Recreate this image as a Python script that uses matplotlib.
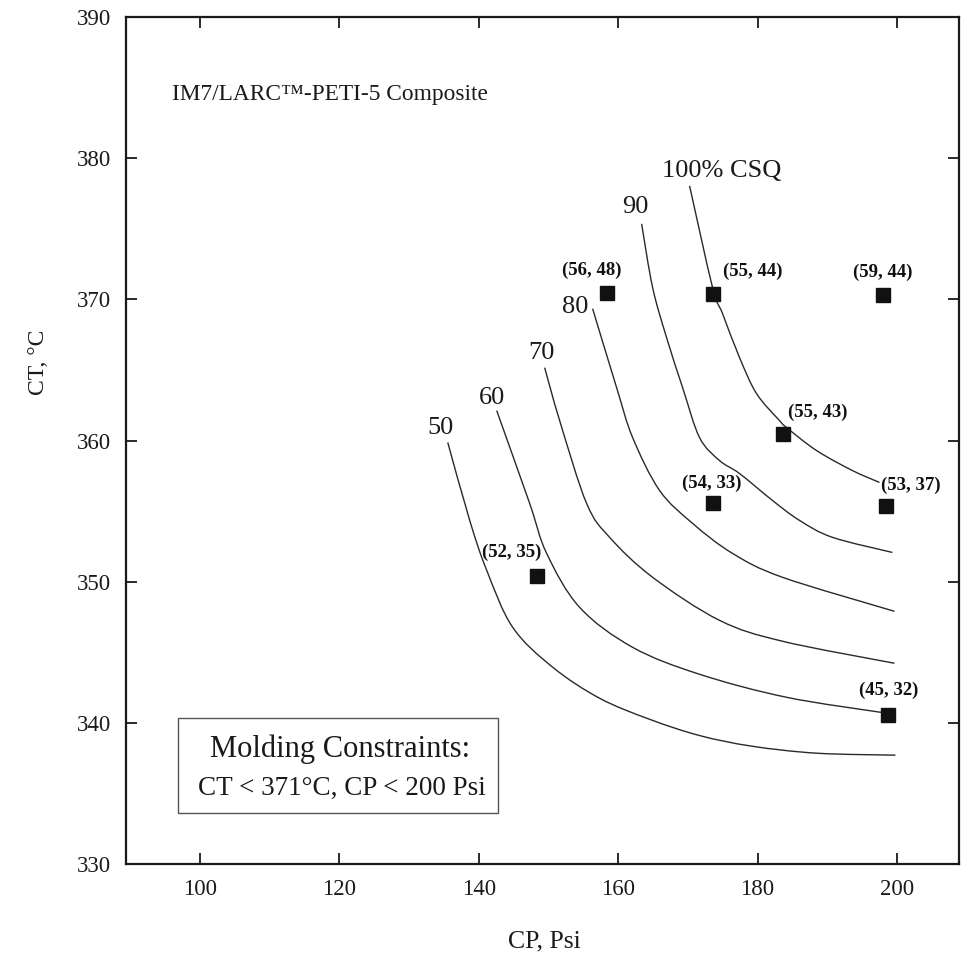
import matplotlib
matplotlib.use("Agg")
import matplotlib.pyplot as plt
from matplotlib.patches import Rectangle, PathPatch
from matplotlib.path import Path

plt.rcParams['font.family'] = ['Liberation Serif', 'DejaVu Serif']

# ---- data (CP in Psi, CT in deg C) ----
curve_levels = ['50', '60', '70', '80', '90', '100% CSQ']

cp_50 = [135.56, 138.71, 141.15, 144.87, 150.61, 157.35, 164.52, 171.68, 179.14, 188.46, 199.78]
ct_50 = [359.86, 354.34, 350.80, 346.77, 343.94, 341.74, 340.25, 339.10, 338.35, 337.85, 337.71]

cp_60 = [142.58, 147.31, 149.75, 154.48, 162.08, 171.68, 184.16, 198.30]
ct_60 = [362.12, 355.54, 352.00, 348.18, 345.35, 343.44, 341.81, 340.70]

cp_70 = [149.46, 151.61, 155.48, 158.78, 164.95, 174.55, 183.58, 199.64]
ct_70 = [365.16, 361.41, 355.54, 353.14, 350.31, 347.26, 345.78, 344.22]

cp_80 = [156.34, 159.78, 162.08, 165.95, 170.68, 176.42, 183.58, 199.64]
ct_80 = [369.34, 363.75, 360.21, 356.46, 354.13, 352.00, 350.31, 347.90]

cp_90 = [163.37, 164.95, 166.95, 169.25, 171.68, 174.55, 177.42, 182.15, 186.02, 190.75, 199.35]
ct_90 = [375.35, 370.83, 367.29, 363.75, 360.21, 358.58, 357.66, 355.75, 354.34, 353.14, 352.07]

cp_100 = [170.25, 173.55, 174.98, 177.42, 179.86, 183.15, 184.16, 188.46, 193.62, 197.49]
ct_100 = [378.04, 370.83, 368.99, 365.87, 363.32, 361.41, 360.92, 359.29, 357.87, 357.03]

curve_cp = [cp_50, cp_60, cp_70, cp_80, cp_90, cp_100]
curve_ct = [ct_50, ct_60, ct_70, ct_80, ct_90, ct_100]
label_cp = [134.55, 141.86, 149.03, 153.91, 162.51, 174.84]
label_ct = [360.49, 362.62, 365.80, 369.06, 376.13, 378.68]

point_cp = [158.35, 173.55, 198.06, 183.58, 173.55, 198.49, 148.32, 198.78]
point_ct = [370.47, 370.40, 370.33, 360.49, 355.54, 355.33, 350.38, 340.54]
point_labels = ['(56, 48)', '(55, 44)', '(59, 44)', '(55, 43)', '(54, 33)', '(53, 37)', '(52, 35)', '(45, 32)']
point_label_cp = [156.20, 179.28, 197.92, 188.60, 173.41, 201.94, 144.73, 198.78]
point_label_ct = [372.03, 371.96, 371.89, 361.98, 356.96, 356.82, 352.07, 342.31]

x_ticks = [100, 120, 140, 160, 180, 200]
y_ticks = [330, 340, 350, 360, 370, 380, 390]


def smooth_path(xs, ys):
    """Bezier path through the given points (Catmull-Rom tangents)."""
    pts = list(zip(xs, ys))
    n = len(pts)
    verts = [pts[0]]
    codes = [Path.MOVETO]
    for i in range(n - 1):
        p0 = pts[i - 1] if i > 0 else pts[i]
        p1 = pts[i]
        p2 = pts[i + 1]
        p3 = pts[i + 2] if i + 2 < n else pts[i + 1]
        c1 = (p1[0] + (p2[0] - p0[0]) / 6.0, p1[1] + (p2[1] - p0[1]) / 6.0)
        c2 = (p2[0] - (p3[0] - p1[0]) / 6.0, p2[1] - (p3[1] - p1[1]) / 6.0)
        verts += [c1, c2, p2]
        codes += [Path.CURVE4, Path.CURVE4, Path.CURVE4]
    return Path(verts, codes)


fig = plt.figure(figsize=(9.61, 9.55), dpi=100)
ax = fig.add_axes([126/961, 1-864/955, (959-126)/961, (864-17)/955])
ax.set_xlim(89.4, 208.9)
ax.set_ylim(330, 390)

ink = '#1a1a1a'
for cp, ct in zip(curve_cp, curve_ct):
    ax.add_patch(PathPatch(smooth_path(cp, ct), fill=False,
                           edgecolor='#2a2a2a', lw=1.0))

for lab, x, y in zip(curve_levels, label_cp, label_ct):
    ax.text(x, y, lab, fontsize=19, ha='center', va='baseline', color=ink)

ax.plot(point_cp, point_ct, linestyle='none', marker='s', markersize=9.5,
        color='#111111')
for lab, x, y in zip(point_labels, point_label_cp, point_label_ct):
    ax.text(x, y, lab, fontsize=13.5, ha='center', va='center', color='#111111',
            fontweight='bold')

ax.text(95.99, 384.13, 'IM7/LARC\u2122-PETI-5 Composite', fontsize=16.8,
        ha='left', va='baseline', color=ink)

ax.add_patch(Rectangle((96.85, 333.6), 142.7-96.85, 340.32-333.6,
                       fill=False, edgecolor='#555555', lw=1.0))
ax.text(120.07, 337.57, 'Molding Constraints:', fontsize=22, ha='center',
        va='baseline', color=ink)
ax.text(120.43, 334.88, 'CT < 371\u00b0C, CP < 200 Psi', fontsize=19.5,
        ha='center', va='baseline', color=ink)

ax.set_xticks(x_ticks)
ax.set_yticks(y_ticks)
ax.tick_params(direction='in', length=8, width=1.3, top=True, right=True,
               labelsize=16.5, pad=11, colors=ink)
for s in ax.spines.values():
    s.set_linewidth(1.6)
    s.set_color(ink)

fig.text(38/961, 1-362/955, 'CT, \u00b0C', rotation=90, fontsize=17,
         ha='center', va='center', color=ink)
fig.text(544/961, 1-941/955, 'CP, Psi', fontsize=18.5, ha='center',
         va='center', color=ink)

fig.savefig('out.png', dpi=100)
